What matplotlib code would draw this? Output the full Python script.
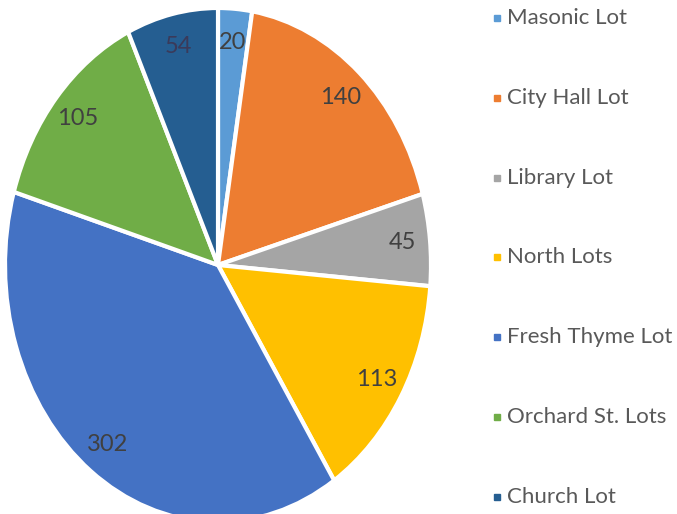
import matplotlib
matplotlib.use("Agg")
import matplotlib.pyplot as plt
from matplotlib.lines import Line2D

# parking spaces per lot
lots = ["Masonic Lot", "City Hall Lot", "Library Lot", "North Lots",
        "Fresh Thyme Lot", "Orchard St. Lots", "Church Lot"]
spaces = [20, 140, 45, 113, 302, 105, 54]
colors = ["#5B9BD5", "#ED7D31", "#A5A5A5", "#FFC000",
          "#4472C4", "#70AD47", "#255E91"]

W, H = 677, 514
plt.rcParams["font.family"] = ["Lato", "DejaVu Sans"]

fig = plt.figure(figsize=(W / 100, H / 100), dpi=100)
fig.patch.set_facecolor("white")

# pie is stretched vertically and runs off the bottom edge
ax = fig.add_axes([5 / W, -8 / H, 426 / W, 514 / H])
total = sum(spaces)
wedges, _, autotexts = ax.pie(
    spaces, colors=colors, startangle=90, counterclock=False,
    autopct=lambda p: f"{round(p * total / 100):.0f}", pctdistance=0.87,
    wedgeprops=dict(edgecolor="white", linewidth=3),
    textprops=dict(color="#404040", fontsize=17),
)
autotexts[-1].set_color("#3a3a5a")
ax.set_aspect("auto")
ax.set_xlim(-1, 1)
ax.set_ylim(-1, 1)

# legend rows down the right side
row0, step = 18, 79.8
for i, (name, c) in enumerate(zip(lots, colors)):
    y = 1 - (row0 + i * step) / H
    fig.add_artist(Line2D([497 / W], [y], marker="s", markersize=5,
                          color=c, linestyle="none", transform=fig.transFigure))
    fig.text(507 / W, y, name, fontsize=16, color="#595959",
             va="center", ha="left")

fig.savefig("out.png", dpi=100, facecolor="white")
